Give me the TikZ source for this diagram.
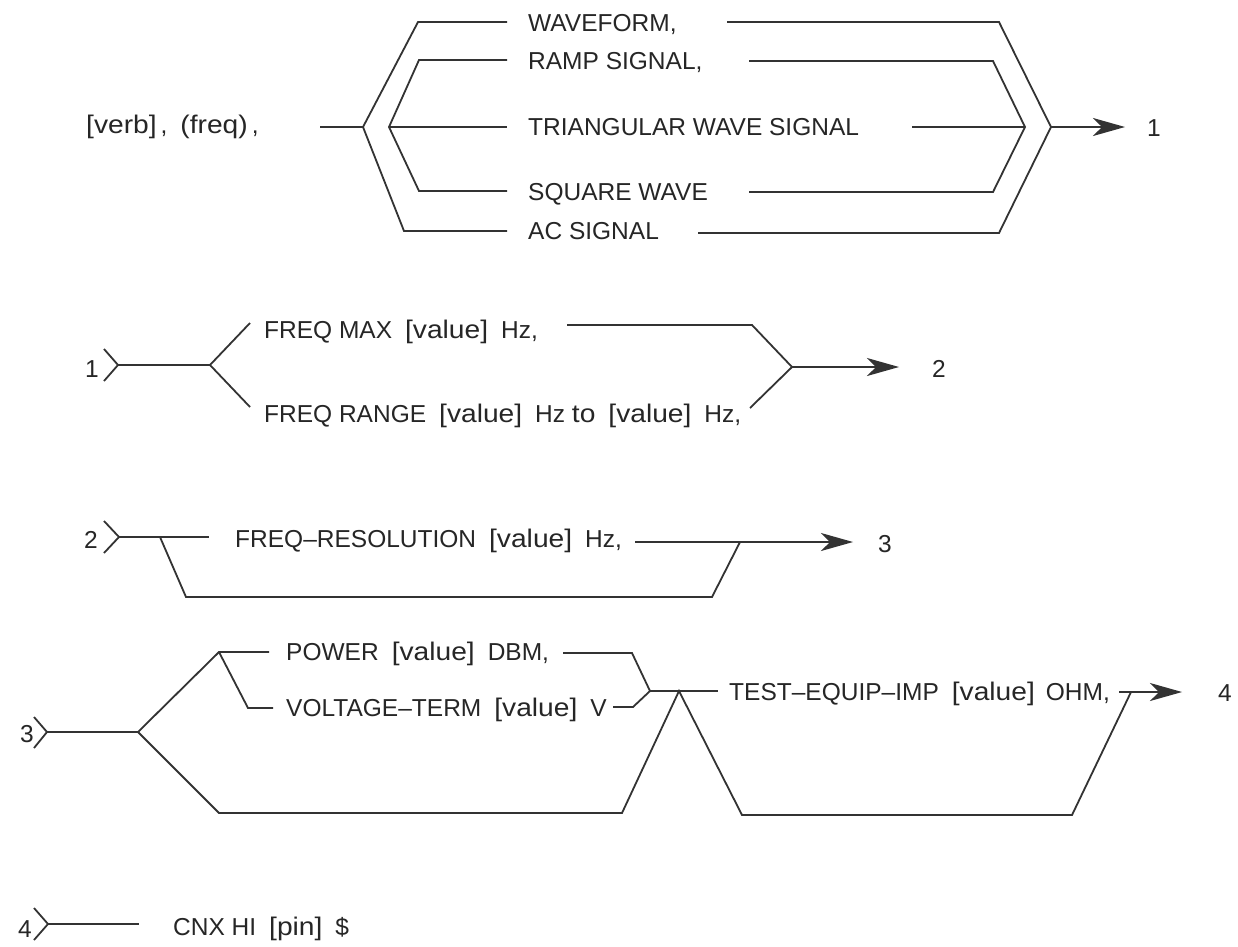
\documentclass[tikz,border=0pt]{standalone}
\usepackage{graphicx}
\usepackage{fontspec}
\setmainfont{Liberation Sans}
\usetikzlibrary{arrows.meta}
\newcommand\lcw[1]{\scalebox{1.15}[1.04]{#1}}
\newcommand\wgap{\hspace{13pt}}
\begin{document}
\begin{tikzpicture}[x=1pt,y=-1pt,
  lbl/.style={font=\fontsize{24.5}{28}\selectfont, inner sep=0pt, anchor=base west, text=black!85},
  ln/.style={line width=1.8pt, draw=black!80, line join=miter},
  arr/.style={ln, -{Stealth[length=32pt,width=18pt,inset=9pt]}}]
\useasboundingbox[fill=white] (0,0) rectangle (1238,946);

% ---------- Section 1 ----------
\node[lbl] (verb) at (86,133) {\lcw{[verb]}\hspace{4pt},\wgap\lcw{(freq)}\hspace{4pt},};
\node[lbl] (wf)   at (528,31)  {WAVEFORM,};
\node[lbl] (ramp) at (528,69)  {RAMP SIGNAL,};
\node[lbl] (tri)  at (528,135) {TRIANGULAR WAVE SIGNAL};
\node[lbl] (sq)   at (528,200) {SQUARE WAVE};
\node[lbl] (ac)   at (528,239) {AC SIGNAL};
\node[lbl] (one)  at (1147,136) {1};

\coordinate (a0) at (320,127);
\coordinate (a1) at (363,127);
\coordinate (a2) at (389,127);
\coordinate (oTl) at (418,22);  \coordinate (oTm) at (507,22);
\coordinate (oTr0) at (727,22); \coordinate (oTr) at (999,22);
\coordinate (iTl) at (419,60);  \coordinate (iTm) at (507,60);
\coordinate (iTr0) at (749,61); \coordinate (iTr) at (993,61);
\coordinate (mm) at (507,127);  \coordinate (mr0) at (912,127);
\coordinate (iBl) at (419,191); \coordinate (iBm) at (507,191);
\coordinate (iBr0) at (749,192); \coordinate (iBr) at (993,192);
\coordinate (oBl) at (404,231); \coordinate (oBm) at (507,231);
\coordinate (oBr0) at (698,233); \coordinate (oBr) at (999,233);
\coordinate (iR) at (1025,127);
\coordinate (aR) at (1051,127);
\coordinate (aE) at (1125,127);

\draw[ln] (a0) -- (a1);
\draw[ln] (oTm) -- (oTl) -- (a1) -- (oBl) -- (oBm);
\draw[ln] (iTm) -- (iTl) -- (a2) -- (iBl) -- (iBm);
\draw[ln] (a2) -- (mm);
\draw[ln] (oTr0) -- (oTr) -- (aR) -- (oBr) -- (oBr0);
\draw[ln] (iTr0) -- (iTr) -- (iR) -- (iBr) -- (iBr0);
\draw[ln] (mr0) -- (iR);
\draw[arr] (aR) -- (aE);

% ---------- Section 2 ----------
\node[lbl] (n1b) at (85,377) {1};
\node[lbl] (fmax) at (264,338) {FREQ MAX\wgap\lcw{[value]}\wgap Hz,};
\node[lbl] (frng) at (264,422) {FREQ RANGE\wgap\lcw{[value]}\wgap Hz \lcw{to}\wgap\lcw{[value]}\wgap Hz,};
\node[lbl] (two) at (932,377) {2};

\coordinate (b0t) at (104,349); \coordinate (b0) at (118,365); \coordinate (b0b) at (104,381);
\coordinate (b1) at (210,365);
\coordinate (b1t) at (250,323); \coordinate (b1b) at (250,407);
\coordinate (b2t0) at (567,325); \coordinate (b2t) at (752,325);
\coordinate (b2b) at (750,408);
\coordinate (b3) at (792,367); \coordinate (bE) at (899,367);

\draw[ln] (b0t) -- (b0) -- (b0b);
\draw[ln] (b0) -- (b1);
\draw[ln] (b1t) -- (b1) -- (b1b);
\draw[ln] (b2t0) -- (b2t) -- (b3) -- (b2b);
\draw[arr] (b3) -- (bE);

% ---------- Section 3 ----------
\node[lbl] (n2b) at (84,548) {2};
\node[lbl] (fres) at (235,547) {FREQ–RESOLUTION\wgap\lcw{[value]}\wgap Hz,};
\node[lbl] (three) at (878,552) {3};

\coordinate (c0t) at (104,521); \coordinate (c0) at (119,537); \coordinate (c0b) at (104,553);
\coordinate (c1) at (160,537); \coordinate (c1e) at (209,537);
\coordinate (c2) at (186,597); \coordinate (c3) at (712,597);
\coordinate (c4) at (740,542);
\coordinate (c5) at (635,542); \coordinate (cE) at (853,542);

\draw[ln] (c0t) -- (c0) -- (c0b);
\draw[ln] (c0) -- (c1e);
\draw[ln] (c1) -- (c2) -- (c3) -- (c4);
\draw[arr] (c5) -- (cE);

% ---------- Section 4 ----------
\node[lbl] (n3b) at (20,742) {3};
\node[lbl] (pow) at (286,660) {POWER\wgap\lcw{[value]}\wgap DBM,};
\node[lbl] (volt) at (286,716) {VOLTAGE–TERM\wgap\lcw{[value]}\wgap V};
\node[lbl] (tei) at (729,700) {TEST–EQUIP–IMP\wgap\lcw{[value]}\hspace{11pt}OHM,};
\node[lbl] (four) at (1218,701) {4};

\coordinate (d0t) at (34,717); \coordinate (d0) at (47,732); \coordinate (d0b) at (34,748);
\coordinate (d1) at (138,732);
\coordinate (d2) at (219,652); \coordinate (d2e) at (269,652);
\coordinate (d3) at (248,708); \coordinate (d3e) at (273,708);
\coordinate (d4) at (219,813);
\coordinate (p0) at (563,653); \coordinate (p1) at (632,653);
\coordinate (v0) at (613,707); \coordinate (v1) at (633,707);
\coordinate (j) at (650,691); \coordinate (je) at (718,691);
\coordinate (q0) at (622,813); \coordinate (apex) at (679,691);
\coordinate (q1) at (742,815); \coordinate (q2) at (1072,815);
\coordinate (q3) at (1131,692);
\coordinate (r0) at (1119,692); \coordinate (rE) at (1182,692);

\draw[ln] (d0t) -- (d0) -- (d0b);
\draw[ln] (d0) -- (d1);
\draw[ln] (d2e) -- (d2) -- (d1) -- (d4) -- (q0) -- (apex) -- (q1) -- (q2) -- (q3);
\draw[ln] (d2) -- (d3) -- (d3e);
\draw[ln] (p0) -- (p1) -- (j) -- (v1) -- (v0);
\draw[ln] (j) -- (je);
\draw[arr] (r0) -- (rE);

% ---------- Section 5 ----------
\node[lbl] (n4b) at (18,937) {4};
\node[lbl] (cnx) at (173,935) {CNX HI\wgap\lcw{[pin]}\wgap\$};
\coordinate (e0t) at (34,908); \coordinate (e0) at (48,924); \coordinate (e0b) at (34,940);
\coordinate (e1) at (139,924);
\draw[ln] (e0t) -- (e0) -- (e0b);
\draw[ln] (e0) -- (e1);
\end{tikzpicture}
\end{document}
